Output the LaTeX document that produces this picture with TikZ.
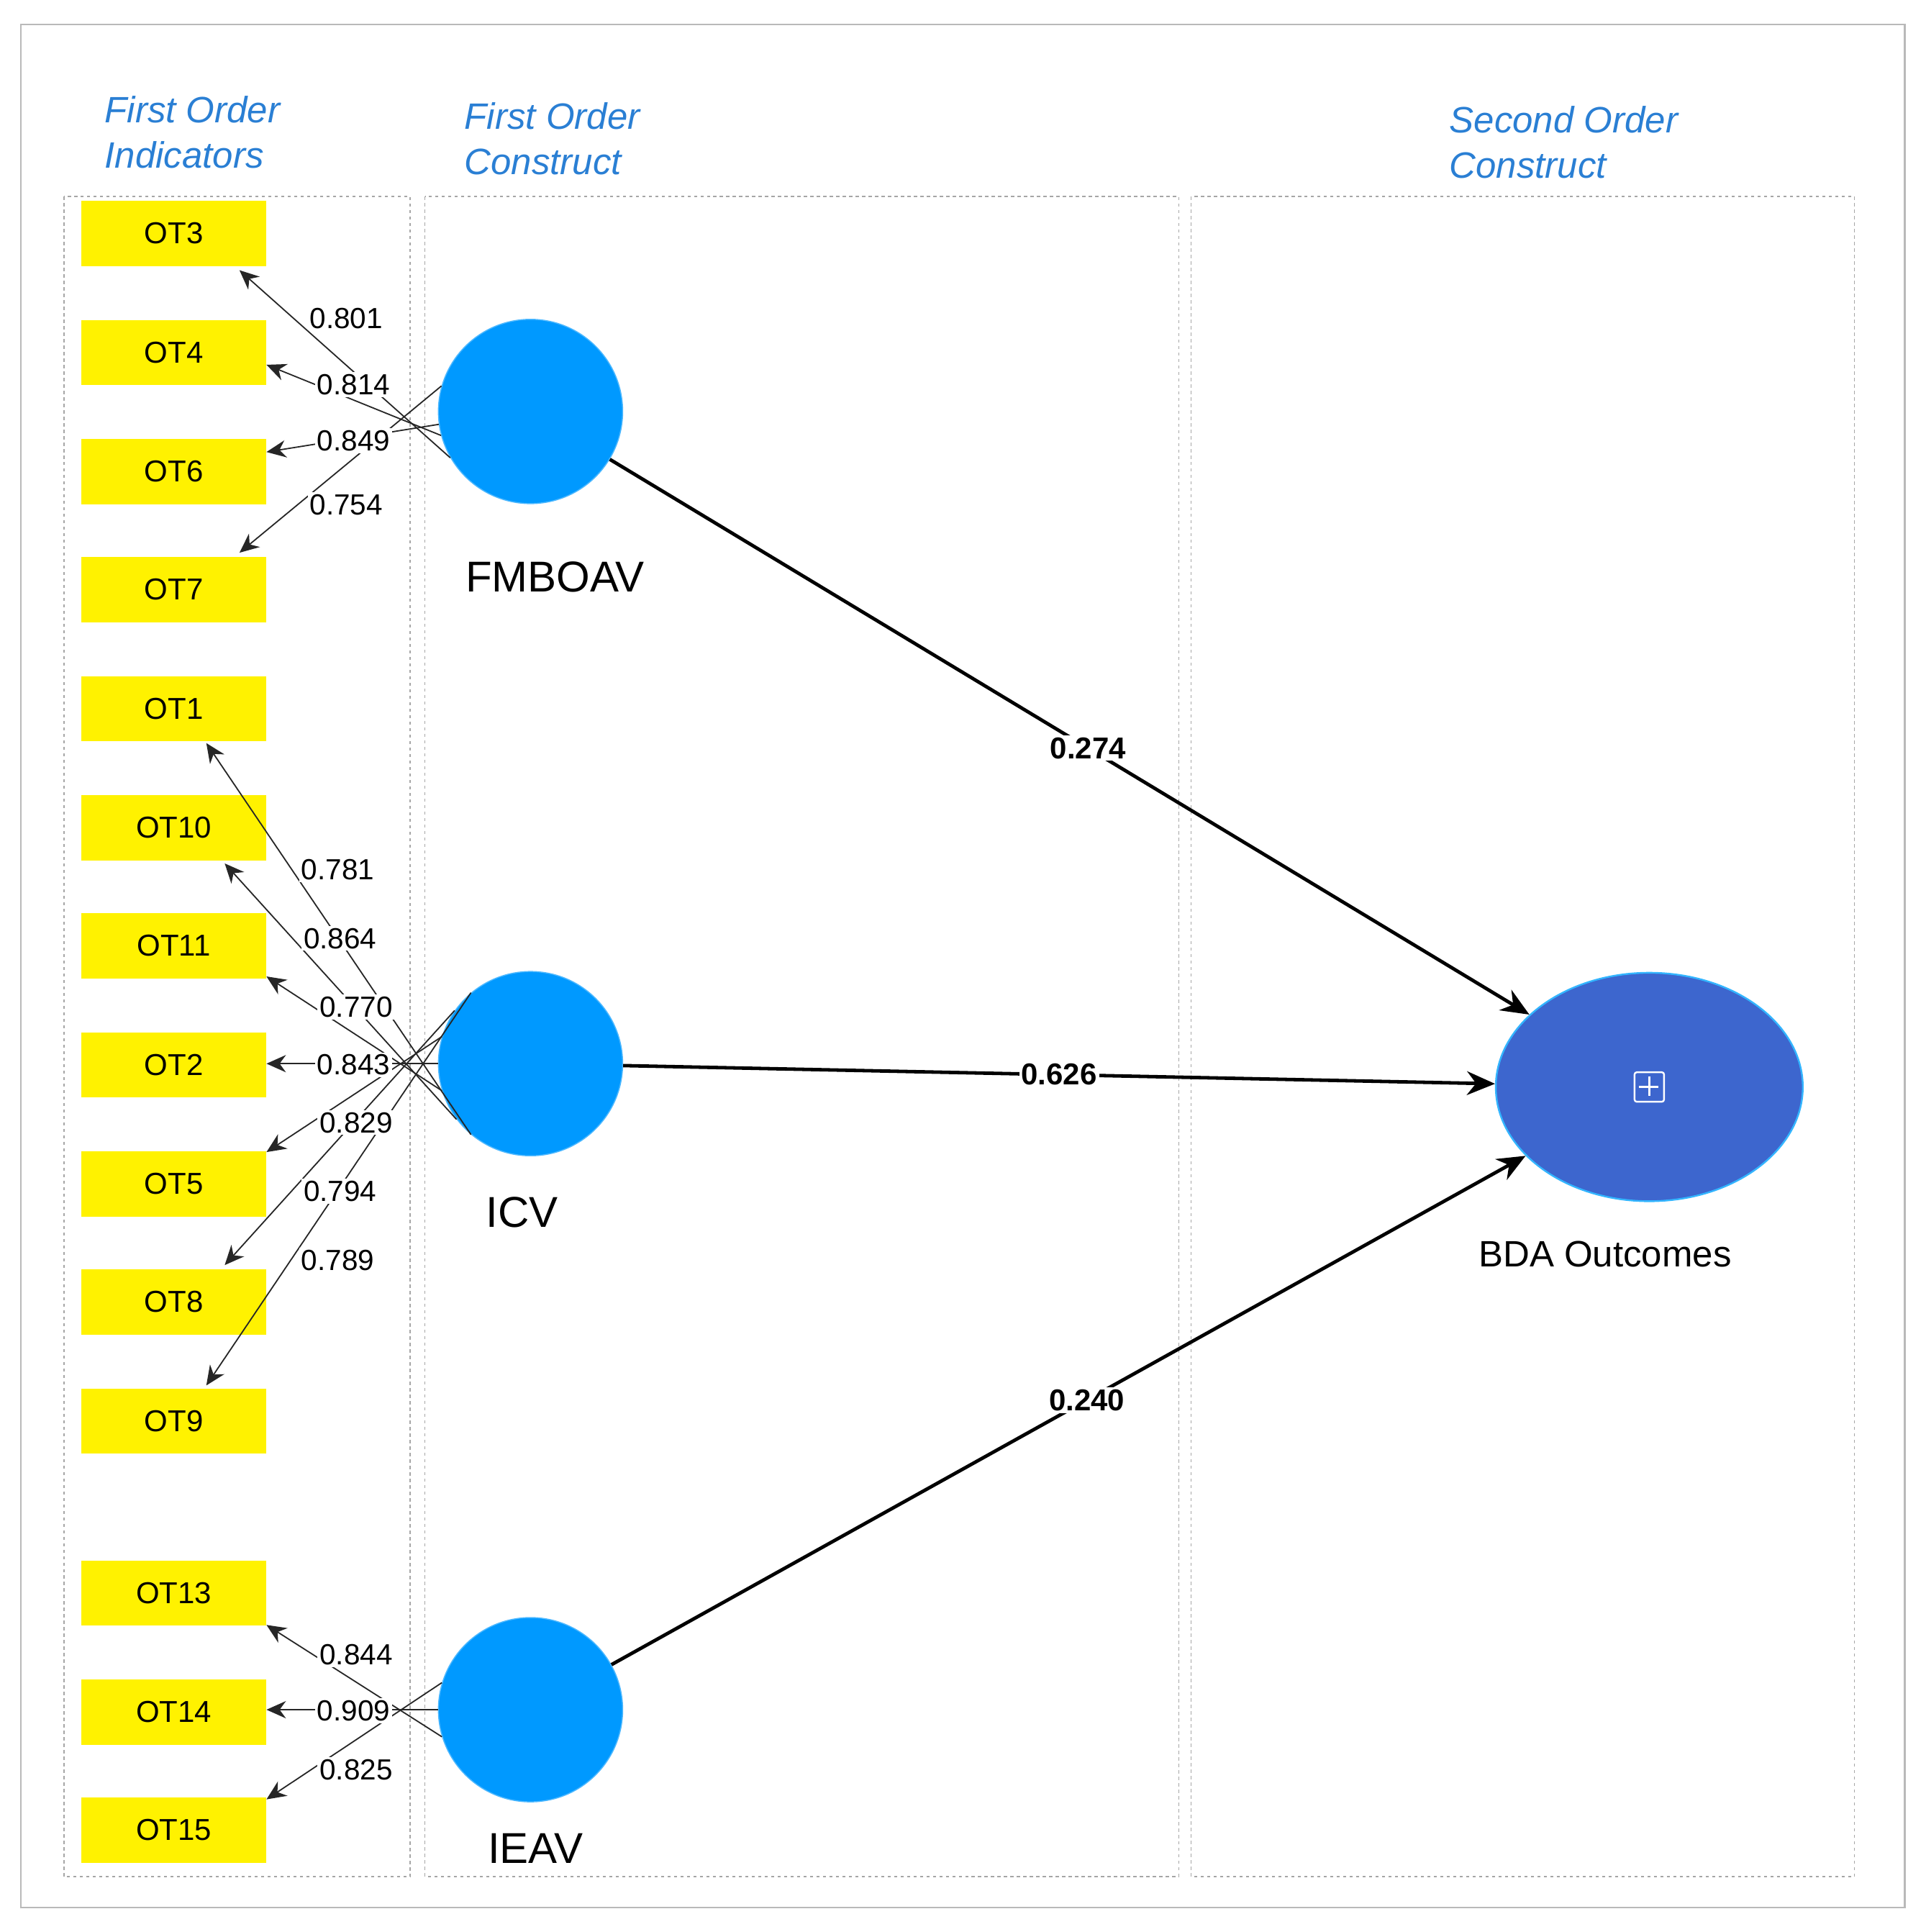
\documentclass[tikz,border=0pt]{standalone}
\usepackage{fontspec}
\setmainfont{Liberation Sans}
\usetikzlibrary{arrows.meta,shapes.geometric}
\definecolor{hdr}{HTML}{2A7FD4}
\definecolor{cir}{HTML}{0099FF}
\definecolor{bda}{HTML}{3D66CE}
\definecolor{bdaedge}{HTML}{33B5FF}
\begin{document}
\begin{tikzpicture}[x=0.02cm,y=-0.02cm,
 ind/.style={fill=yellow,draw=none,minimum width=151*0.02cm,minimum height=53*0.02cm,font=\fontsize{14}{14}\selectfont,inner sep=0},
 lv/.style={circle,fill=cir,draw=cir!70!white,line width=0.5pt,minimum size=150*0.02cm,inner sep=0},
 hd/.style={font=\fontsize{17}{21}\selectfont\itshape,text=hdr,align=left,anchor=north west,inner sep=0},
 ld/.style={-{Stealth[length=9pt,width=8pt]},line width=0.6pt,black!85},
 ll/.style={fill=white,inner sep=1pt,font=\fontsize{13.5}{14}\selectfont},
 pth/.style={-{Stealth[length=13pt,width=11pt]},line width=1.6pt},
 pl/.style={fill=white,inner sep=1pt,font=\fontsize{14}{14}\selectfont\bfseries},
 box/.style={draw=gray!70,dash pattern=on 1.5pt off 1.5pt,line width=0.5pt}]
\useasboundingbox[fill=white] (0,0) rectangle (1568,1573);
\draw[gray!55,line width=0.8pt] (17,20) rectangle (1551,1553);
\draw[box] (52,160) rectangle (334,1528);
\draw[box] (346,160) rectangle (960,1528);
\draw[box] (970,160) rectangle (1510,1528);
\node[hd] (h1) at (85,78) {First Order\\Indicators};
\node[hd] (h2) at (378,83) {First Order\\Construct};
\node[hd] (h3) at (1180,86) {Second Order\\Construct};
\foreach \n/\y in {OT3/190,OT4/287,OT6/384,OT7/480,OT1/577,OT10/674,OT11/770,OT2/867,OT5/964,OT8/1060,OT9/1157,OT13/1297,OT14/1394,OT15/1490}
  \node[ind] (\n) at (141.5,\y) {\n};
\node[lv] (FM) at (432,335) {};
\node[lv] (ICV) at (432,866) {};
\node[lv] (IE) at (432,1392) {};
\node[ellipse,fill=bda,draw=bdaedge,line width=0.8pt,minimum width=250*0.02cm,minimum height=186*0.02cm,inner sep=0] (BDA) at (1343,885) {};
\node[draw=white,line width=0.8pt,minimum size=24*0.02cm,inner sep=0,rounded corners=1pt] (plus) at (1343,885) {};
\draw[white,line width=0.8pt] (plus.north) ++(0,4) -- ++(0,16) (plus.west) ++(4,0) -- ++(16,0);
\node[font=\fontsize{20}{20}\selectfont] (lFM) at (452,470) {FMBOAV};
\node[font=\fontsize{20}{20}\selectfont] (lICV) at (425,987) {ICV};
\node[font=\fontsize{20}{20}\selectfont] (lIE) at (436,1505) {IEAV};
\node[font=\fontsize{17}{17}\selectfont] (lB) at (1307,1021) {BDA Outcomes};
% targets
\coordinate (t3) at (195,220); \coordinate (t4) at (217,297); \coordinate (t6) at (217,368); \coordinate (t7) at (195,450);
\coordinate (t1) at (168,605); \coordinate (t10) at (183,703); \coordinate (t11) at (217,795); \coordinate (t2) at (217,866);
\coordinate (t5) at (217,938); \coordinate (t8) at (183,1030); \coordinate (t9) at (168,1128);
\coordinate (t13) at (217,1323); \coordinate (t14) at (217,1392); \coordinate (t15) at (217,1465);
\foreach \a/\t in {-150/t3,-165/t4,-172/t6,-196/t7}\draw[ld] (FM.\a) -- (\t);
\foreach \a/\t in {-130/t1,-143/t10,-163/t11,180/t2,-197/t5,-215/t8,-230/t9}\draw[ld] (ICV.\a) -- (\t);
\foreach \a/\t in {-163/t13,180/t14,-197/t15}\draw[ld] (IE.\a) -- (\t);
\foreach \l/\x/\y in {0.801/282/259,0.814/288/313,0.849/288/359,0.754/282/411,0.781/275/708,0.864/277/764,0.770/290/820,0.843/288/867,0.829/290/914,0.794/277/970,0.789/275/1026,0.844/290/1347,0.909/288/1393,0.825/290/1441}
  \node[ll] at (\x,\y) {\l};
\draw[pth] (FM) -- node[pl,pos=0.52] {0.274} (BDA);
\draw[pth] (ICV) -- node[pl,pos=0.5] {0.626} (BDA);
\draw[pth] (IE) -- node[pl,pos=0.52] {0.240} (BDA);
\end{tikzpicture}
\end{document}
